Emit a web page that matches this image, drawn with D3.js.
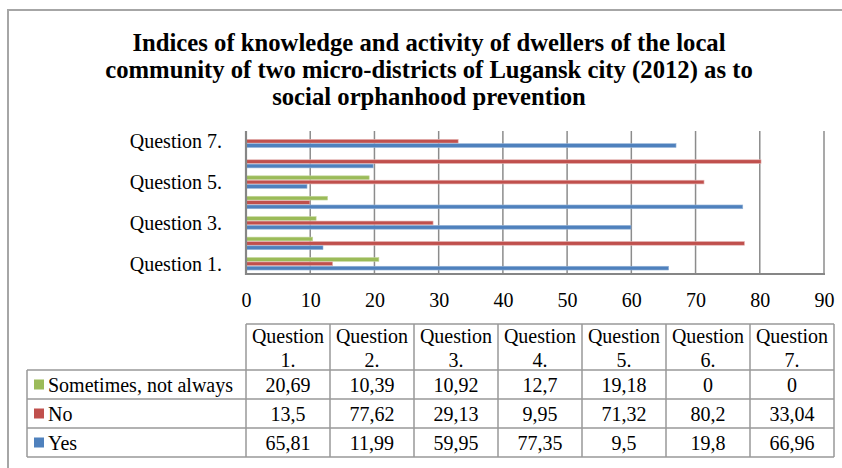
<!DOCTYPE html>
<html>
<head>
<meta charset="utf-8">
<script src="https://cdn.jsdelivr.net/npm/d3@7"></script>
<style>
  html, body { margin: 0; padding: 0; background: #fff; }
  svg { display: block; }
</style>
</head>
<body>
<svg id="chart" width="842" height="468"></svg>
<script>
const titleLines = [
  "Indices of knowledge and activity of dwellers of the local",
  "community of two micro-districts of Lugansk city (2012) as to",
  "social orphanhood prevention"
];
const categories = ["Question 1.", "Question 2.", "Question 3.", "Question 4.", "Question 5.", "Question 6.", "Question 7."];
const seriesNames = ["Sometimes, not always", "No", "Yes"];
const sometimesValues = [20.69, 10.39, 10.92, 12.7, 19.18, 0, 0];
const noValues = [13.5, 77.62, 29.13, 9.95, 71.32, 80.2, 33.04];
const yesValues = [65.81, 11.99, 59.95, 77.35, 9.5, 19.8, 66.96];
const sometimesLabels = ["20,69", "10,39", "10,92", "12,7", "19,18", "0", "0"];
const noLabels = ["13,5", "77,62", "29,13", "9,95", "71,32", "80,2", "33,04"];
const yesLabels = ["65,81", "11,99", "59,95", "77,35", "9,5", "19,8", "66,96"];
const xTicks = [0, 10, 20, 30, 40, 50, 60, 70, 80, 90];
const axisCategoryLabels = ["Question 1.", "Question 3.", "Question 5.", "Question 7."];

const FONT = '"Liberation Serif", "Times New Roman", Tinos, serif';
const colors = { "Sometimes, not always": "#9BBB59", "No": "#C0504D", "Yes": "#4F81BD" };
const strokeColors = { "Sometimes, not always": "#c3d69b", "No": "#e6b9b8", "Yes": "#95b3d7" };

const series = [
  { name: "Sometimes, not always", values: sometimesValues, labels: sometimesLabels },
  { name: "No", values: noValues, labels: noLabels },
  { name: "Yes", values: yesValues, labels: yesLabels }
];

const svg = d3.select("#chart").style("font-family", FONT);

// outer frame (partially cropped)
svg.append("path")
  .attr("d", "M8,468 L8,10 L842,10")
  .attr("fill", "none").attr("stroke", "#a6a6a6").attr("stroke-width", 2);

// title
const title = svg.append("text")
  .style("font-family", FONT)
  .attr("text-anchor", "middle")
  .attr("font-weight", "bold")
  .attr("font-size", 26)
  .attr("fill", "#000")
  .attr("transform", "translate(429,0) scale(0.95,1)");
titleLines.forEach((l, i) => {
  title.append("tspan").attr("x", 0).attr("y", 51 + i * 27).text(l);
});

// scales
const plotLeft = 246, plotRight = 824, plotTop = 131, plotBottom = 274;
const x = d3.scaleLinear().domain([0, 90]).range([plotLeft, plotRight]);
const y = d3.scaleBand().domain(categories).range([plotBottom, plotTop]).paddingInner(0.36).paddingOuter(0.18);
const yInner = d3.scaleBand().domain(seriesNames).range([0, y.bandwidth()]);

// gridlines
svg.append("g").selectAll("line").data(xTicks.filter(t => t > 0)).join("line")
  .attr("x1", d => x(d)).attr("x2", d => x(d))
  .attr("y1", plotTop).attr("y2", plotBottom)
  .attr("stroke", "#8c8c8c").attr("stroke-width", 1.5);

// bars
const groups = svg.append("g").selectAll("g").data(series).join("g");
groups.selectAll("rect")
  .data(s => s.values.map((v, i) => ({ name: s.name, cat: categories[i], v })))
  .join("rect")
  .attr("x", x(0))
  .attr("y", d => y(d.cat) + yInner(d.name) + 0.3)
  .attr("width", d => x(d.v) - x(0))
  .attr("height", yInner.bandwidth() - 0.6)
  .attr("fill", d => colors[d.name])
  .attr("stroke", d => d.v > 0 ? strokeColors[d.name] : "none")
  .attr("stroke-width", 0.6);

// axes lines
svg.append("line").attr("x1", plotLeft).attr("x2", plotLeft).attr("y1", plotTop).attr("y2", plotBottom + 1)
  .attr("stroke", "#868686").attr("stroke-width", 2.2);
svg.append("line").attr("x1", plotLeft - 1).attr("x2", plotRight + 1).attr("y1", plotBottom).attr("y2", plotBottom)
  .attr("stroke", "#868686").attr("stroke-width", 2.2);

// x tick labels
const xAxis = d3.axisBottom(x).tickValues(xTicks).tickSize(0).tickPadding(0).tickFormat(d3.format("d"));
const gx = svg.append("g").attr("transform", `translate(0,${plotBottom})`).call(xAxis);
gx.attr("font-family", null).attr("font-size", null);
gx.select(".domain").remove();
gx.selectAll("text").style("font-family", FONT).attr("font-size", 20).attr("fill", "#000")
  .attr("dy", null).attr("y", 33);

// y category labels
const yAxis = d3.axisLeft(y).tickValues(axisCategoryLabels).tickSize(0).tickPadding(24);
const gy = svg.append("g").attr("transform", `translate(${plotLeft},0)`).call(yAxis);
gy.attr("font-family", null).attr("font-size", null);
gy.select(".domain").remove();
gy.selectAll("text").style("font-family", FONT).attr("font-size", 20).attr("fill", "#000")
  .attr("dy", "0.35em");

// data table
const tableLeft = 27, tableRight = 834, headerTop = 324, rowTop = 370, rowH = 29;
const tx = d3.scaleBand().domain(categories).range([plotLeft, tableRight]);
const rowY = d3.scaleBand().domain(seriesNames).range([rowTop, rowTop + rowH * 3]);
const tbl = svg.append("g");
const lineColor = "#999999";

tbl.append("line").attr("x1", plotLeft).attr("x2", tableRight).attr("y1", headerTop).attr("y2", headerTop)
  .attr("stroke", lineColor).attr("stroke-width", 1.5);
[rowTop, rowTop + rowH, rowTop + 2 * rowH, rowTop + 3 * rowH].forEach(yy => {
  tbl.append("line").attr("x1", tableLeft).attr("x2", tableRight).attr("y1", yy).attr("y2", yy)
    .attr("stroke", lineColor).attr("stroke-width", 1.5);
});
tbl.append("line").attr("x1", tableLeft).attr("x2", tableLeft).attr("y1", rowTop).attr("y2", rowTop + 3 * rowH)
  .attr("stroke", lineColor).attr("stroke-width", 1.5);
categories.forEach(c => {
  tbl.append("line").attr("x1", tx(c)).attr("x2", tx(c)).attr("y1", headerTop).attr("y2", rowTop + 3 * rowH)
    .attr("stroke", lineColor).attr("stroke-width", 1.5);
});
tbl.append("line").attr("x1", tableRight).attr("x2", tableRight).attr("y1", headerTop).attr("y2", rowTop + 3 * rowH)
  .attr("stroke", lineColor).attr("stroke-width", 1.5);

// header text
categories.forEach(c => {
  const parts = c.split(" ");
  const t = tbl.append("text").style("font-family", FONT).attr("text-anchor", "middle").attr("font-size", 20).attr("fill", "#000");
  t.append("tspan").attr("x", tx(c) + tx.bandwidth() / 2).attr("y", 343).text(parts[0]);
  t.append("tspan").attr("x", tx(c) + tx.bandwidth() / 2).attr("y", 367).text(parts[1]);
});

// rows
series.forEach(s => {
  const cy = rowY(s.name) + rowY.bandwidth() / 2;
  tbl.append("rect").attr("x", 34).attr("y", cy - 5).attr("width", 10).attr("height", 10)
    .attr("fill", colors[s.name]);
  tbl.append("text").style("font-family", FONT).attr("x", 48).attr("y", cy).attr("dy", "0.35em")
    .attr("font-size", 20).attr("fill", "#000").text(s.name);
  s.labels.forEach((lab, i) => {
    tbl.append("text").style("font-family", FONT).attr("x", tx(categories[i]) + tx.bandwidth() / 2).attr("y", cy)
      .attr("dy", "0.35em").attr("text-anchor", "middle").attr("font-size", 20).attr("fill", "#000").text(lab);
  });
});
</script>
</body>
</html>
